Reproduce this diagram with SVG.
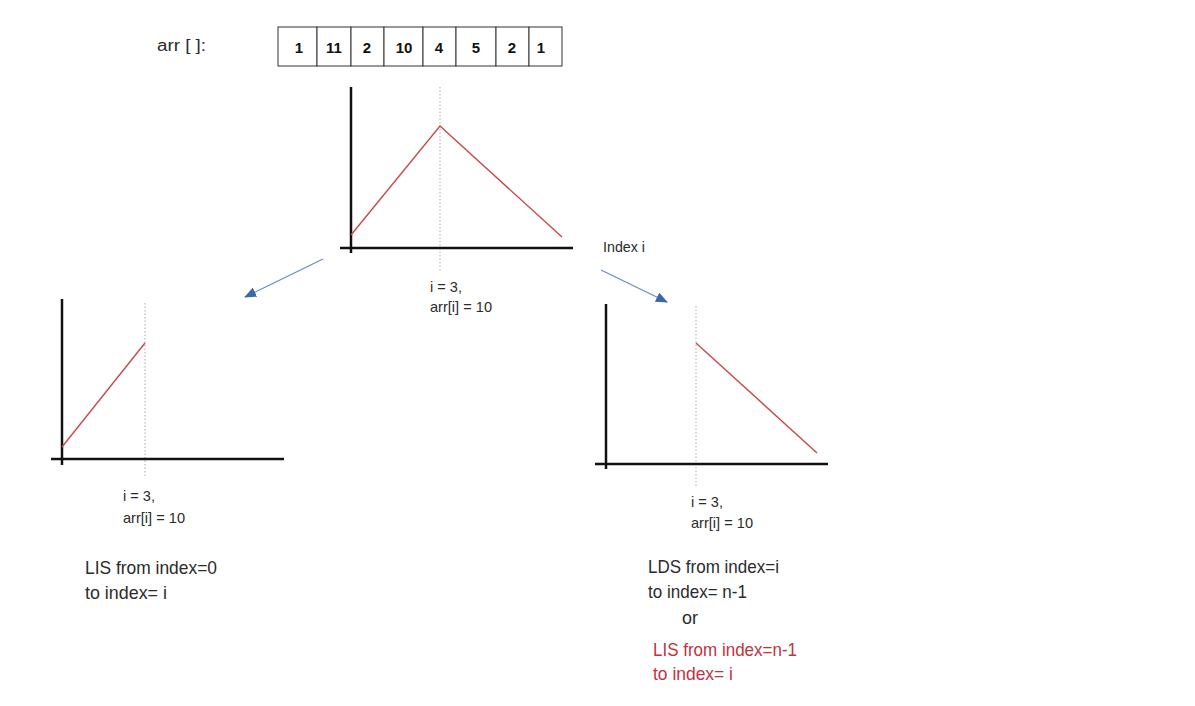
<svg xmlns="http://www.w3.org/2000/svg" width="1195" height="706" viewBox="0 0 1195 706">
<style>
.t{font-family:"Liberation Sans",Arial,sans-serif;fill:#2b2b2b}
.sm{font-size:14.5px}
.lg{font-size:19px}
.red{fill:#c3323f}
.num{font-family:"Liberation Sans",Arial,sans-serif;font-size:15px;font-weight:bold;fill:#111;text-anchor:middle}
.cell{fill:#fff;stroke:#333;stroke-width:1}
.axis{stroke:#111;stroke-width:2.5;fill:none}
.curve{stroke:#c94a4a;stroke-width:1.4;fill:none}
.dot{stroke:#aaa;stroke-width:1;stroke-dasharray:1.5 2;fill:none}
.conn{stroke:#6a8cc2;stroke-width:1.2;fill:none;marker-end:url(#ah)}
</style>
<defs>
<marker id="ah" viewBox="0 0 12 10" refX="11" refY="5" markerWidth="12" markerHeight="10" markerUnits="userSpaceOnUse" orient="auto">
<path d="M0,0 L12,5 L0,10 z" fill="#3c67a8"/>
</marker>
</defs>
<rect width="1195" height="706" fill="#fff"/>

<g id="array">
<text class="t" x="157" y="51" font-size="16" textLength="49" lengthAdjust="spacingAndGlyphs">arr [ ]:</text>
<rect class="cell" x="278" y="27" width="39" height="39"/>
<rect class="cell" x="317" y="27" width="34" height="39"/>
<rect class="cell" x="351" y="27" width="33" height="39"/>
<rect class="cell" x="384" y="27" width="39" height="39"/>
<rect class="cell" x="423" y="27" width="33" height="39"/>
<rect class="cell" x="456" y="27" width="40" height="39"/>
<rect class="cell" x="496" y="27" width="33" height="39"/>
<rect class="cell" x="529" y="27" width="33" height="39"/>
<text class="num" x="299" y="53">1</text>
<text class="num" x="334" y="53">11</text>
<text class="num" x="367" y="53">2</text>
<text class="num" x="404" y="53">10</text>
<text class="num" x="439" y="53">4</text>
<text class="num" x="476" y="53">5</text>
<text class="num" x="512" y="53">2</text>
<text class="num" x="541" y="53">1</text>
</g>

<g id="chart-top">
<line class="dot" x1="440" y1="87" x2="440" y2="272"/>
<line class="axis" x1="351" y1="87" x2="351" y2="253"/>
<line class="axis" x1="340" y1="248" x2="573" y2="248"/>
<polyline class="curve" points="351,235 440,126 562,237"/>
<text class="t" x="603" y="252" font-size="15" textLength="42" lengthAdjust="spacingAndGlyphs">Index i</text>
<text class="t sm" x="430" y="292" textLength="32" lengthAdjust="spacingAndGlyphs">i = 3,</text>
<text class="t sm" x="430" y="312" textLength="62" lengthAdjust="spacingAndGlyphs">arr[i] = 10</text>
</g>

<g id="chart-left">
<line class="dot" x1="145" y1="303" x2="145" y2="478"/>
<line class="axis" x1="62" y1="299" x2="62" y2="465"/>
<line class="axis" x1="51" y1="459" x2="284" y2="459"/>
<line class="curve" x1="62" y1="447" x2="145" y2="343"/>
<text class="t sm" x="123" y="501" textLength="32" lengthAdjust="spacingAndGlyphs">i = 3,</text>
<text class="t sm" x="123" y="523" textLength="62" lengthAdjust="spacingAndGlyphs">arr[i] = 10</text>
<text class="t lg" x="85" y="574" textLength="132" lengthAdjust="spacingAndGlyphs">LIS from index=0</text>
<text class="t lg" x="85" y="599" textLength="82" lengthAdjust="spacingAndGlyphs">to index= i</text>
</g>

<g id="chart-right">
<line class="dot" x1="696" y1="306" x2="696" y2="486"/>
<line class="axis" x1="606" y1="304" x2="606" y2="469"/>
<line class="axis" x1="595" y1="464" x2="828" y2="464"/>
<line class="curve" x1="696" y1="343" x2="817" y2="453"/>
<text class="t sm" x="691" y="507" textLength="32" lengthAdjust="spacingAndGlyphs">i = 3,</text>
<text class="t sm" x="691" y="528" textLength="62" lengthAdjust="spacingAndGlyphs">arr[i] = 10</text>
<text class="t lg" x="648" y="573" textLength="131" lengthAdjust="spacingAndGlyphs">LDS from index=i</text>
<text class="t lg" x="648" y="598" textLength="99" lengthAdjust="spacingAndGlyphs">to index= n-1</text>
<text class="t lg" x="682" y="624" textLength="16" lengthAdjust="spacingAndGlyphs">or</text>
<text class="t lg red" x="653" y="656" textLength="144" lengthAdjust="spacingAndGlyphs">LIS from index=n-1</text>
<text class="t lg red" x="653" y="680" textLength="80" lengthAdjust="spacingAndGlyphs">to index= i</text>
</g>

<g id="connectors">
<line class="conn" x1="323" y1="259" x2="245" y2="297"/>
<line class="conn" x1="601" y1="270" x2="667" y2="302"/>
</g>
</svg>
